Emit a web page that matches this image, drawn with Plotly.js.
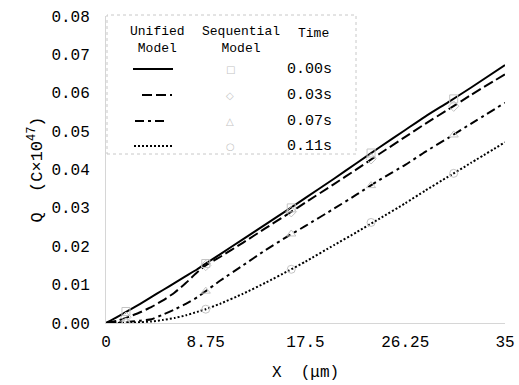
<!DOCTYPE html>
<html>
<head>
<meta charset="utf-8">
<script src="https://cdn.plot.ly/plotly-3.0.1.min.js"></script>
<style>html,body{margin:0;padding:0;background:#fff;}</style>
</head>
<body>
<div id="chart" style="width:519px;height:385px;"></div>
<script>
// ---- data ----
const xs = [0,1,2,3,4,5,6,7,8,8.75,10,12,14,16,17.5,20,22,24,26.25,28,30,32,35];
const unified000 = [0,0.0016,0.0033,0.0050,0.0068,0.0086,0.0104,0.0122,0.0140,0.0155,0.0179,0.0218,0.0257,0.0296,0.0326,0.0376,0.0417,0.0458,0.0503,0.0538,0.0575,0.0613,0.0672];
const unified003 = [0,0.0006,0.0016,0.0028,0.0042,0.0059,0.0079,0.0104,0.0132,0.0150,0.0172,0.0209,0.0247,0.0285,0.0314,0.0362,0.0401,0.0441,0.0485,0.0519,0.0556,0.0594,0.0648];
const unified007 = [0,0.0001,0.0003,0.0006,0.0010,0.0022,0.0035,0.0050,0.0067,0.0083,0.0110,0.0150,0.0190,0.0227,0.0253,0.0298,0.0335,0.0373,0.0412,0.0446,0.0482,0.0519,0.0574];
const unified011 = [0,0,0.0001,0.0002,0.0004,0.0008,0.0013,0.0020,0.0029,0.0036,0.0050,0.0076,0.0105,0.0136,0.0160,0.0203,0.0237,0.0272,0.0312,0.0345,0.0381,0.0417,0.0471];

const seqX = [1.75, 8.75, 16.25, 23.25, 30.5];
const seq000 = [0.0030, 0.0155, 0.0300, 0.0443, 0.0584];
const seq003 = [0.0015, 0.0150, 0.0290, 0.0428, 0.0565];
const seq007 = [0.0003, 0.0083, 0.0232, 0.0358, 0.0490];
const seq011 = [0.0001, 0.0036, 0.0140, 0.0262, 0.0390];

const timeLabels = ["0.00s", "0.03s", "0.07s", "0.11s"];
const xTickVals = [0, 8.75, 17.5, 26.25, 35];
const xTickText = ["0", "8.75", "17.5", "26.25", "35"];
const yTickVals = [0, 0.01, 0.02, 0.03, 0.04, 0.05, 0.06, 0.07, 0.08];
const yTickText = ["0.00","0.01","0.02","0.03","0.04","0.05","0.06","0.07","0.08"];

// ---- styles ----
const FONT = "Liberation Mono, DejaVu Sans Mono, monospace";
const dashes = ["solid", "10px,4px", "9px,4px,3px,4px", "2px,2px"];
const symbols = ["square-open", "diamond-open", "triangle-up-open", "circle-open"];
const legendGlyphs = ["□", "◇", "△", "○"];
const unifiedSeries = [unified000, unified003, unified007, unified011];
const seqSeries = [seq000, seq003, seq007, seq011];

const traces = [];
unifiedSeries.forEach((ys, i) => {
  traces.push({
    x: xs, y: ys, type: "scatter", mode: "lines",
    line: {color: "#000", width: 2, dash: dashes[i], shape: "spline", smoothing: 0.5},
    showlegend: false, hoverinfo: "skip"
  });
});
seqSeries.forEach((ys, i) => {
  traces.push({
    x: seqX, y: ys, type: "scatter", mode: "markers",
    marker: {symbol: symbols[i], size: 8, color: "#c4c4c4", line: {width: 1, color: "#c4c4c4"}},
    showlegend: false, hoverinfo: "skip"
  });
});

// plot area pixels: left 106, right 505, top 16, bottom 323
const L = 106, R = 505, T = 16, B = 323;
const px = v => (v - L) / (R - L);
const py = v => (B - v) / (B - T);

const shapes = [
  {type: "rect", xref: "paper", yref: "paper", x0: px(107), x1: px(356), y0: py(154), y1: py(15),
   line: {color: "#c8c8c8", width: 1, dash: "dot"}}
];
const rowY = [69, 95, 121, 146];
const sampleX = [[133,173],[142,172],[135,168],[134,172]];
rowY.forEach((y, i) => {
  shapes.push({type: "line", xref: "paper", yref: "paper",
    x0: px(sampleX[i][0]), x1: px(sampleX[i][1]), y0: py(y), y1: py(y),
    line: {color: "#000", width: 2, dash: dashes[i]}});
});

const base = {xref: "paper", yref: "paper", showarrow: false, xanchor: "center", yanchor: "middle"};
const annotations = [
  {text: "Unified<br>Model", x: px(157), y: py(40)},
  {text: "Sequential<br>Model", x: px(241), y: py(40)},
  {text: "Time", x: px(313), y: py(33)}
].map(a => Object.assign({}, base, {font: {family: FONT, size: 13, color: "#000"}}, a));
rowY.forEach((y, i) => {
  annotations.push(Object.assign({}, base, {text: legendGlyphs[i], x: px(230), y: py(y),
    font: {family: "DejaVu Sans", size: 10, color: "#c4c4c4"}}));
  annotations.push(Object.assign({}, base, {text: timeLabels[i], x: px(334), y: py(y),
    xanchor: "right", font: {family: FONT, size: 15, color: "#000"}}));
});

const layout = {
  width: 519, height: 385,
  margin: {l: L, r: 519 - R, t: T, b: 385 - B},
  paper_bgcolor: "#fff", plot_bgcolor: "#fff",
  showlegend: false,
  font: {family: FONT, size: 16, color: "#000"},
  xaxis: {
    range: [0, 35], tickvals: xTickVals, ticktext: xTickText,
    showgrid: false, zeroline: false, showline: true, linecolor: "#d6d6d6", linewidth: 1,
    ticks: "", ticklabelstandoff: 4,
    tickfont: {family: FONT, size: 16, color: "#000"},
    title: {text: "X\u00a0\u00a0(μm)", font: {family: FONT, size: 16, color: "#000"}, standoff: 14}
  },
  yaxis: {
    range: [0, 0.08], tickvals: yTickVals, ticktext: yTickText,
    showgrid: false, zeroline: false, showline: true, linecolor: "#d6d6d6", linewidth: 1,
    ticks: "", ticklabelstandoff: 12,
    tickfont: {family: FONT, size: 16, color: "#000"},
    title: {text: "Q\u00a0\u00a0(C×10<sup>47</sup>)", font: {family: FONT, size: 17, color: "#000"}, standoff: 4}
  },
  shapes: shapes,
  annotations: annotations
};

Plotly.newPlot("chart", traces, layout, {staticPlot: true, displayModeBar: false});
</script>
</body>
</html>
